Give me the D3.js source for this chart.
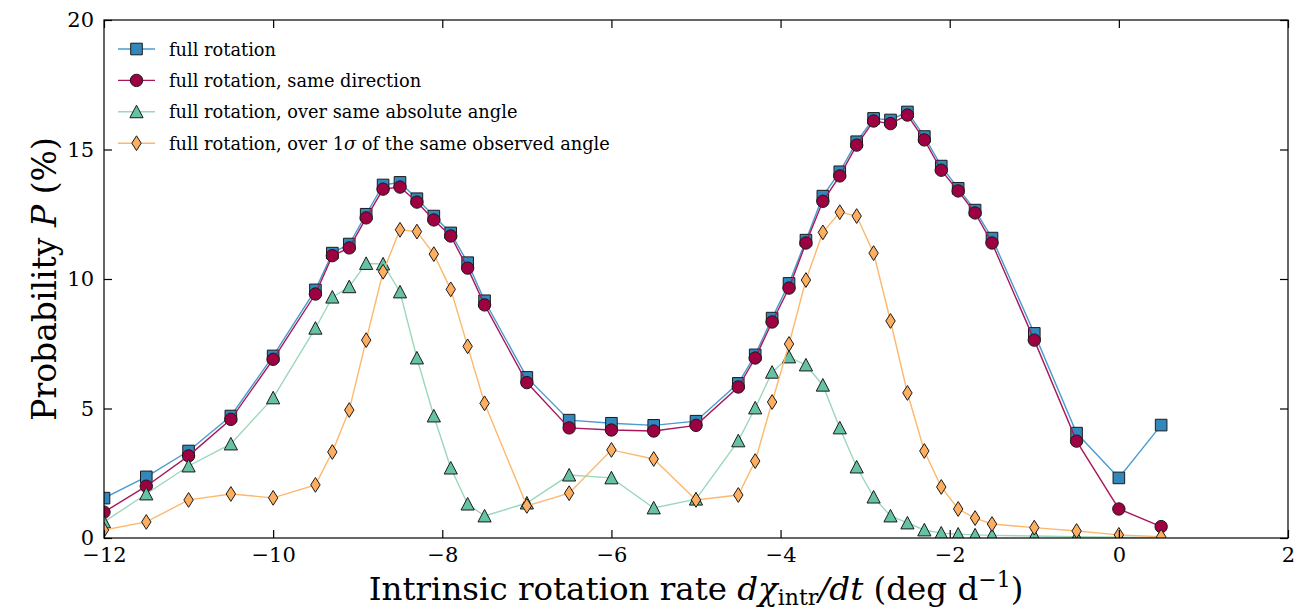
<!DOCTYPE html>
<html>
<head>
<meta charset="utf-8">
<script src="https://cdn.jsdelivr.net/npm/d3@7/dist/d3.min.js"></script>
<style>
  html, body { margin: 0; padding: 0; background: #fff; }
  svg { display: block; }
  text { font-family: "DejaVu Serif", serif; fill: #000; }
</style>
</head>
<body>
<svg id="chart" width="1313" height="611"></svg>
<script>
// Intrinsic rotation rate bins (deg per day)
const rates = [-12, -11.5, -11, -10.5, -10, -9.5, -9.3, -9.1, -8.9, -8.7, -8.5, -8.3, -8.1, -7.9, -7.7, -7.5,
  -7, -6.5, -6, -5.5, -5, -4.5, -4.3, -4.1, -3.9, -3.7, -3.5, -3.3, -3.1, -2.9, -2.7, -2.5, -2.3, -2.1,
  -1.9, -1.7, -1.5, -1, -0.5, 0, 0.5];

// Probability (%) for each criterion
const fullRotation = [1.54, 2.36, 3.36, 4.71, 7.03, 9.58, 11.0, 11.35, 12.5, 13.63, 13.73, 13.1, 12.43, 11.78,
  10.63, 9.16, 6.2, 4.55, 4.43, 4.35, 4.51, 5.97, 7.07, 8.49, 9.83, 11.5, 13.2, 14.14, 15.3, 16.2, 16.14,
  16.45, 15.5, 14.36, 13.5, 12.66, 11.58, 7.9, 4.05, 2.32, 4.36];
const sameDirection = [1.0, 2.0, 3.17, 4.58, 6.9, 9.42, 10.9, 11.2, 12.36, 13.47, 13.55, 12.97, 12.28, 11.66,
  10.42, 9.0, 6.0, 4.25, 4.17, 4.13, 4.35, 5.83, 6.95, 8.34, 9.65, 11.39, 13.0, 13.98, 15.17, 16.1, 16.0,
  16.33, 15.37, 14.2, 13.4, 12.55, 11.39, 7.64, 3.74, 1.12, 0.44];
const sameAbsoluteAngle = [0.62, 1.7, 2.78, 3.63, 5.41, 8.1, 9.3, 9.7, 10.6, 10.58, 9.5, 6.95, 4.71, 2.7,
  1.31, 0.85, 1.35, 2.43, 2.32, 1.16, 1.5, 3.75, 5.02, 6.4, 6.99, 6.68, 5.9, 4.25, 2.74, 1.58, 0.85, 0.58,
  0.31, 0.19, 0.15, 0.12, 0.1, 0.08, 0.05, 0.03, 0.02];
const sameObservedAngle = [0.31, 0.62, 1.47, 1.7, 1.55, 2.05, 3.32, 4.94, 7.64, 10.28, 11.9, 11.83, 10.96,
  9.6, 7.4, 5.2, 1.24, 1.73, 3.4, 3.05, 1.47, 1.66, 2.97, 5.25, 7.49, 9.96, 11.8, 12.58, 12.43, 11.0, 8.38,
  5.6, 3.36, 1.97, 1.12, 0.77, 0.54, 0.4, 0.27, 0.12, 0.05];

const xTicks = [-12, -10, -8, -6, -4, -2, 0, 2];
const yTicks = [0, 5, 10, 15, 20];

const seriesLabels = [
  "full rotation",
  "full rotation, same direction",
  "full rotation, over same absolute angle",
  "full rotation, over 1σ of the same observed angle"
];
const seriesValues = [fullRotation, sameDirection, sameAbsoluteAngle, sameObservedAngle];
const seriesColors = ["#3288bd", "#9e0142", "#66c2a5", "#fdae61"];
const seriesLineColors = ["#4a9bd0", "#a8185a", "#9bd8ba", "#fdb86c"];
const seriesSymbols = ["square", "circle", "triangle", "diamond"];

const width = 1313, height = 611;
const margin = { left: 104, right: 25, top: 20, bottom: 73 };
const iw = width - margin.left - margin.right;
const ih = height - margin.top - margin.bottom;

const svg = d3.select("#chart");
const x = d3.scaleLinear().domain([-12, 2]).range([0, iw]);
const y = d3.scaleLinear().domain([0, 20]).range([ih, 0]);

const g = svg.append("g").attr("transform", `translate(${margin.left},${margin.top})`);

g.append("defs").append("clipPath").attr("id", "plotclip")
  .append("rect").attr("width", iw).attr("height", ih);

// marker path generators, centred on (0,0)
function markerPath(kind) {
  switch (kind) {
    case "square": { const s = 5.8; return `M${-s},${-s}H${s}V${s}H${-s}Z`; }
    case "circle": { const r = 6.2; return `M${r},0A${r},${r} 0 1,1 ${-r},0A${r},${r} 0 1,1 ${r},0Z`; }
    case "triangle": { const s = 6.6; return `M0,${-s}L${s},${s * 0.9}L${-s},${s * 0.9}Z`; }
    case "diamond": { const w = 4.7, h = 7.4; return `M0,${-h}L${w},0L0,${h}L${-w},0Z`; }
  }
}

const plot = g.append("g").attr("clip-path", "url(#plotclip)");
const line = d3.line().x((d, i) => x(rates[i])).y(d => y(d));

seriesValues.forEach((vals, k) => {
  const sg = plot.append("g");
  sg.append("path").datum(vals)
    .attr("d", line)
    .attr("fill", "none")
    .attr("stroke", seriesLineColors[k])
    .attr("stroke-width", 1.4);
  sg.selectAll("path.m").data(vals).enter().append("path")
    .attr("class", "m")
    .attr("d", markerPath(seriesSymbols[k]))
    .attr("transform", (d, i) => `translate(${x(rates[i])},${y(d)})`)
    .attr("fill", seriesColors[k])
    .attr("stroke", "#1a1a1a")
    .attr("stroke-width", 1);
});

// frame
g.append("rect").attr("width", iw).attr("height", ih)
  .attr("fill", "none").attr("stroke", "#000").attr("stroke-width", 1.2);

// inward ticks on all four sides
const tickLen = 8;
const xAxisB = d3.axisBottom(x).tickValues(xTicks).tickSizeInner(-tickLen).tickSizeOuter(0)
  .tickPadding(9).tickFormat(d => d < 0 ? "\u2212" + Math.abs(d) : String(d));
const xAxisT = d3.axisTop(x).tickValues(xTicks).tickSizeInner(-tickLen).tickSizeOuter(0).tickFormat("");
const yAxisL = d3.axisLeft(y).tickValues(yTicks).tickSizeInner(-tickLen).tickSizeOuter(0)
  .tickPadding(10).tickFormat(d3.format("d"));
const yAxisR = d3.axisRight(y).tickValues(yTicks).tickSizeInner(-tickLen).tickSizeOuter(0).tickFormat("");

function styleAxis(sel) {
  sel.select(".domain").remove();
  sel.selectAll(".tick line").attr("stroke", "#000").attr("stroke-width", 1.2);
  sel.selectAll(".tick text").attr("font-family", "DejaVu Serif").attr("font-size", 21).attr("fill", "#000");
}
g.append("g").attr("transform", `translate(0,${ih})`).call(xAxisB).call(styleAxis);
g.append("g").call(xAxisT).call(styleAxis);
g.append("g").call(yAxisL).call(styleAxis);
g.append("g").attr("transform", `translate(${iw},0)`).call(yAxisR).call(styleAxis);

// axis titles
const xl = svg.append("text")
  .attr("x", margin.left + iw / 2).attr("y", 600)
  .attr("text-anchor", "middle").attr("font-size", 32.5);
xl.append("tspan").text("Intrinsic rotation rate ");
xl.append("tspan").attr("font-style", "italic").text("dχ");
xl.append("tspan").attr("font-size", 22).attr("dy", 5).text("intr");
xl.append("tspan").attr("dy", -5).attr("font-style", "italic").text("/dt");
xl.append("tspan").text(" (deg d");
xl.append("tspan").attr("font-size", 22).attr("dy", -13).text("\u22121");
xl.append("tspan").attr("dy", 13).text(")");

const yl = svg.append("text")
  .attr("transform", `translate(56,${margin.top + ih / 2}) rotate(-90)`)
  .attr("text-anchor", "middle").attr("font-size", 33);
yl.append("tspan").text("Probability ");
yl.append("tspan").attr("font-style", "italic").text("P");
yl.append("tspan").text(" (%)");

// legend
const legend = g.append("g").attr("transform", "translate(14,29)");
const rowGap = 31.4;
seriesLabels.forEach((label, k) => {
  const row = legend.append("g").attr("transform", `translate(0,${k * rowGap})`);
  row.append("line").attr("x1", 0).attr("x2", 37).attr("y1", 0).attr("y2", 0)
    .attr("stroke", seriesLineColors[k]).attr("stroke-width", 1.4);
  row.append("path").attr("d", markerPath(seriesSymbols[k]))
    .attr("transform", "translate(18.5,0)")
    .attr("fill", seriesColors[k]).attr("stroke", "#1a1a1a").attr("stroke-width", 1);
  const t = row.append("text").attr("x", 51).attr("y", 6.5).attr("font-size", 17.8);
  if (label.includes("1σ")) {
    const [a, b] = label.split("1σ");
    t.append("tspan").text(a + "1");
    t.append("tspan").attr("font-style", "italic").text("σ");
    t.append("tspan").text(b);
  } else {
    t.text(label);
  }
});
</script>
</body>
</html>
